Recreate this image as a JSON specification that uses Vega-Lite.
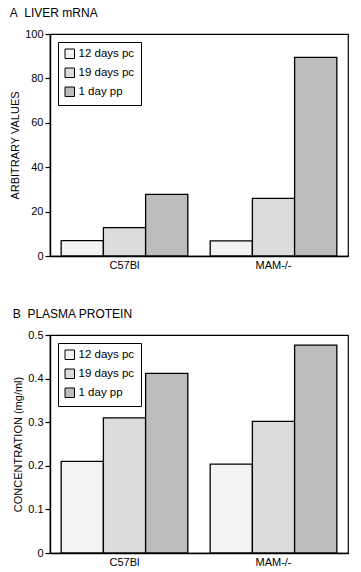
{
  "$schema": "https://vega.github.io/schema/vega-lite/v6.json",
  "background": "white",
  "padding": {"left": 9, "top": 6, "right": 2, "bottom": 2},
  "config": {
    "font": "Liberation Sans",
    "view": {"stroke": "black", "strokeWidth": 1.2},
    "axis": {"domainColor": "black", "tickColor": "black", "labelColor": "black", "titleColor": "black", "labelFontSize": 11, "titleFontSize": 11, "titleFontWeight": "normal", "grid": false, "domainWidth": 1.5, "tickWidth": 1.2},
    "title": {"fontSize": 12, "fontWeight": "normal", "anchor": "start", "frame": "bounds", "color": "black"},
    "legend": {"strokeColor": "black", "fillColor": "white", "padding": 6, "symbolType": "square", "symbolSize": 90, "symbolStrokeColor": "black", "symbolStrokeWidth": 1, "symbolOpacity": 1, "labelFontSize": 11.5, "labelColor": "black", "rowPadding": 5, "labelOffset": 3},
    "concat": {"spacing": 36}
  },
  "vconcat": [
    {
      "title": {"text": "A\u00a0\u00a0LIVER mRNA", "offset": 8},
      "width": 298,
      "height": 222,
      "data": {"values": [
        {"strain": "C57Bl", "period": "12 days pc", "value": 6.9},
        {"strain": "C57Bl", "period": "19 days pc", "value": 12.8},
        {"strain": "C57Bl", "period": "1 day pp", "value": 27.8},
        {"strain": "MAM-/-", "period": "12 days pc", "value": 6.8},
        {"strain": "MAM-/-", "period": "19 days pc", "value": 26},
        {"strain": "MAM-/-", "period": "1 day pp", "value": 89.5}
      ]},
      "mark": {"type": "bar", "stroke": "black", "strokeWidth": 1.3},
      "encoding": {
        "x": {"field": "strain", "type": "nominal", "sort": ["C57Bl", "MAM-/-"], "scale": {"paddingInner": 0.15, "paddingOuter": 0.075}, "axis": {"title": null, "labelAngle": 0, "ticks": false, "labelPadding": 3}},
        "xOffset": {"field": "period", "type": "nominal", "sort": ["12 days pc", "19 days pc", "1 day pp"], "scale": {"paddingInner": 0}},
        "y": {"field": "value", "type": "quantitative", "scale": {"domain": [0, 100]}, "axis": {"title": "ARBITRARY VALUES", "values": [0, 20, 40, 60, 80, 100], "tickSize": 5, "titlePadding": 4}},
        "fill": {"field": "period", "type": "nominal", "sort": ["12 days pc", "19 days pc", "1 day pp"], "scale": {"domain": ["12 days pc", "19 days pc", "1 day pp"], "range": ["#f3f3f3", "#dcdcdc", "#bdbdbd"]}, "legend": {"title": null, "orient": "top-left", "offset": 8}}
      }
    },
    {
      "title": {"text": "B\u00a0\u00a0PLASMA PROTEIN", "offset": 8},
      "width": 298,
      "height": 218,
      "data": {"values": [
        {"strain": "C57Bl", "period": "12 days pc", "value": 0.21},
        {"strain": "C57Bl", "period": "19 days pc", "value": 0.31},
        {"strain": "C57Bl", "period": "1 day pp", "value": 0.412},
        {"strain": "MAM-/-", "period": "12 days pc", "value": 0.204},
        {"strain": "MAM-/-", "period": "19 days pc", "value": 0.302},
        {"strain": "MAM-/-", "period": "1 day pp", "value": 0.477}
      ]},
      "mark": {"type": "bar", "stroke": "black", "strokeWidth": 1.3},
      "encoding": {
        "x": {"field": "strain", "type": "nominal", "sort": ["C57Bl", "MAM-/-"], "scale": {"paddingInner": 0.15, "paddingOuter": 0.075}, "axis": {"title": null, "labelAngle": 0, "ticks": false, "labelPadding": 3}},
        "xOffset": {"field": "period", "type": "nominal", "sort": ["12 days pc", "19 days pc", "1 day pp"], "scale": {"paddingInner": 0}},
        "y": {"field": "value", "type": "quantitative", "scale": {"domain": [0, 0.5]}, "axis": {"title": "CONCENTRATION (mg/ml)", "values": [0, 0.1, 0.2, 0.3, 0.4, 0.5], "labelExpr": "datum.value == 0 ? '0' : format(datum.value, '.1f')", "tickSize": 5, "titlePadding": 4}},
        "fill": {"field": "period", "type": "nominal", "sort": ["12 days pc", "19 days pc", "1 day pp"], "scale": {"domain": ["12 days pc", "19 days pc", "1 day pp"], "range": ["#f3f3f3", "#dcdcdc", "#bdbdbd"]}, "legend": {"title": null, "orient": "top-left", "offset": 8}}
      }
    }
  ],
  "resolve": {"scale": {"fill": "independent"}, "legend": {"fill": "independent"}}
}
